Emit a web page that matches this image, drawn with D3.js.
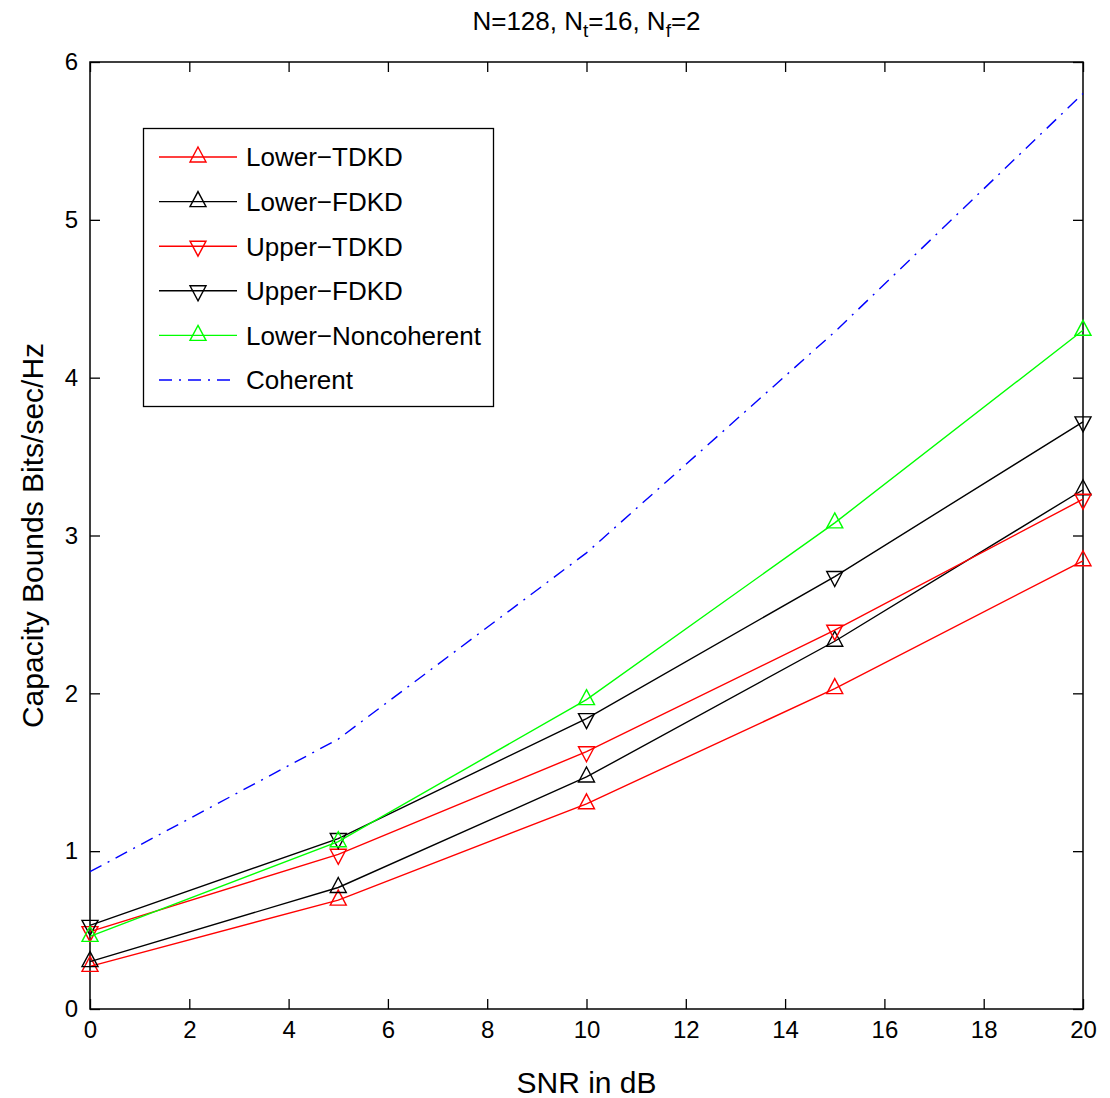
<!DOCTYPE html>
<html>
<head>
<meta charset="utf-8">
<script src="https://cdn.jsdelivr.net/npm/d3@7"></script>
<style>
  body { margin: 0; background: #fff; }
  svg { display: block; }
</style>
</head>
<body>
<script>
// data
const snr = [0, 5, 10, 15, 20];
const lowerTDKD = [0.27, 0.69, 1.30, 2.03, 2.84];
const lowerFDKD = [0.30, 0.77, 1.47, 2.33, 3.29];
const upperTDKD = [0.49, 0.98, 1.63, 2.40, 3.23];
const upperFDKD = [0.53, 1.08, 1.84, 2.74, 3.72];
const lowerNoncoherent = [0.46, 1.06, 1.96, 3.08, 4.30];
const coherent = [0.87, 1.71, 2.89, 4.29, 5.80];

const xTicks = d3.range(0, 21, 2);
const yTicks = d3.range(0, 7, 1);

const series = [
  { name: "Lower\u2212TDKD", values: lowerTDKD, color: "#ff0000", marker: "up" },
  { name: "Lower\u2212FDKD", values: lowerFDKD, color: "#000000", marker: "up" },
  { name: "Upper\u2212TDKD", values: upperTDKD, color: "#ff0000", marker: "down" },
  { name: "Upper\u2212FDKD", values: upperFDKD, color: "#000000", marker: "down" },
  { name: "Lower\u2212Noncoherent", values: lowerNoncoherent, color: "#00ff00", marker: "up" },
  { name: "Coherent", values: coherent, color: "#0000ff", marker: null, dash: "13,7,2,7" }
];

const width = 1110, height = 1098;
const margin = { top: 62, right: 27, bottom: 89, left: 90 };
const font = "'Liberation Sans', Arial, Helvetica, sans-serif";

const x = d3.scaleLinear().domain([0, 20]).range([margin.left, width - margin.right]);
const y = d3.scaleLinear().domain([0, 6]).range([height - margin.bottom, margin.top]);

const svg = d3.select("body").append("svg")
    .attr("width", width)
    .attr("height", height)
    .attr("font-family", font);

// triangle markers, centred on the centroid like matlab
const tri = {
  up: "M0,-10L8,5L-8,5Z",
  down: "M0,10L8,-5L-8,-5Z"
};

// axes, ticks pointing inward
const axisStyle = g => {
  g.attr("font-size", 24).attr("font-family", font);
  g.select(".domain").remove();
  g.selectAll(".tick line").attr("stroke", "#000").attr("stroke-width", 1.3);
  g.selectAll(".tick text").attr("fill", "#000");
};

svg.append("g")
    .attr("transform", `translate(0,${y(0)})`)
    .call(d3.axisBottom(x).tickValues(xTicks).tickSize(-10).tickPadding(12).tickFormat(d3.format("d")))
    .call(axisStyle);

svg.append("g")
    .attr("transform", `translate(0,${y(6)})`)
    .call(d3.axisTop(x).tickValues(xTicks).tickSize(-10).tickFormat(""))
    .call(axisStyle);

svg.append("g")
    .attr("transform", `translate(${x(0)},0)`)
    .call(d3.axisLeft(y).tickValues(yTicks).tickSize(-10).tickPadding(12).tickFormat(d3.format("d")))
    .call(axisStyle);

svg.append("g")
    .attr("transform", `translate(${x(20)},0)`)
    .call(d3.axisRight(y).tickValues(yTicks).tickSize(-10).tickFormat(""))
    .call(axisStyle);

// box
svg.append("rect")
    .attr("x", x(0))
    .attr("y", y(6))
    .attr("width", x(20) - x(0))
    .attr("height", y(0) - y(6))
    .attr("fill", "none")
    .attr("stroke", "#000")
    .attr("stroke-width", 1.5);

const line = d3.line()
    .x((d, i) => x(snr[i]))
    .y(d => y(d));

// draw coherent first so it sits underneath
const plotOrder = [5, 0, 1, 2, 3, 4];
plotOrder.forEach(k => {
  const s = series[k];
  svg.append("path")
      .attr("d", line(s.values))
      .attr("fill", "none")
      .attr("stroke", s.color)
      .attr("stroke-width", 1.4)
      .attr("stroke-dasharray", s.dash || null);

  if (s.marker) {
    svg.append("g")
      .selectAll("path")
      .data(s.values)
      .join("path")
        .attr("transform", (d, i) => `translate(${x(snr[i])},${y(d)})`)
        .attr("d", tri[s.marker])
        .attr("fill", "none")
        .attr("stroke", s.color)
        .attr("stroke-width", 1.4);
  }
});

// legend
const legend = svg.append("g");
legend.append("rect")
    .attr("x", 143.5)
    .attr("y", 128.5)
    .attr("width", 350)
    .attr("height", 278)
    .attr("fill", "#fff")
    .attr("stroke", "#000")
    .attr("stroke-width", 1.3);

const rowY = d3.scaleLinear().domain([0, 5]).range([157, 380]);
series.forEach((s, i) => {
  const g = legend.append("g").attr("transform", `translate(0,${rowY(i)})`);
  g.append("line")
      .attr("x1", 159).attr("x2", 237)
      .attr("stroke", s.color)
      .attr("stroke-width", 1.4)
      .attr("stroke-dasharray", s.dash || null);
  if (s.marker) {
    g.append("path")
        .attr("transform", "translate(198,0)")
        .attr("d", tri[s.marker])
        .attr("fill", "none")
        .attr("stroke", s.color)
        .attr("stroke-width", 1.4);
  }
  g.append("text")
      .attr("x", 246)
      .attr("dy", "0.36em")
      .attr("font-size", 26)
      .text(s.name);
});

// title with subscripts
const title = svg.append("text")
    .attr("x", (x(0) + x(20)) / 2)
    .attr("y", 30)
    .attr("text-anchor", "middle")
    .attr("font-size", 26);
title.append("tspan").text("N=128, N");
title.append("tspan").attr("dy", 7).attr("font-size", 19).text("t");
title.append("tspan").attr("dy", -7).text("=16, N");
title.append("tspan").attr("dy", 7).attr("font-size", 19).text("f");
title.append("tspan").attr("dy", -7).text("=2");

// axis labels
svg.append("text")
    .attr("x", (x(0) + x(20)) / 2)
    .attr("y", 1093)
    .attr("text-anchor", "middle")
    .attr("font-size", 30)
    .text("SNR in dB");

svg.append("text")
    .attr("transform", `translate(43,${(y(0) + y(6)) / 2}) rotate(-90)`)
    .attr("text-anchor", "middle")
    .attr("font-size", 30)
    .text("Capacity Bounds Bits/sec/Hz");
</script>
</body>
</html>
